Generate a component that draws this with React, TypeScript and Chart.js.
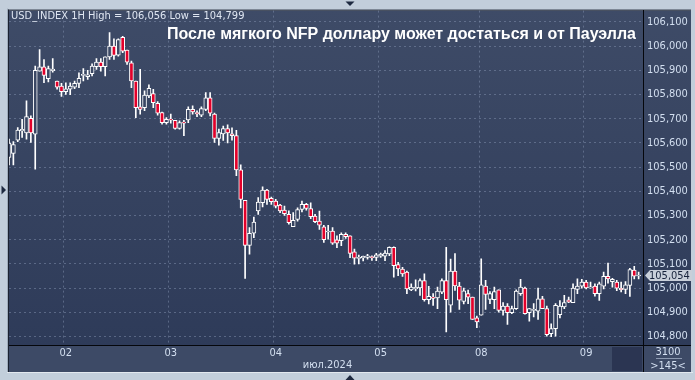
import { useEffect, useRef } from 'react';
import { Chart, registerables } from 'chart.js';

Chart.register(...registerables);

// ---- categories (1H bars) ----
const days = ['01', '02', '03', '04', '05', '08', '09'];
const firstHour = [11, 0, 0, 0, 0, 0, 0];
const barsPerDay = [13, 24, 24, 24, 23, 24, 13];
const categories: string[] = [];
days.forEach((d, i) => {
  for (let k = 0; k < barsPerDay[i]; k++) {
    const h = firstHour[i] + k;
    categories.push(`${d}.07 ${String(h).padStart(2, '0')}:00`);
  }
});
categories.push(''); // empty trailing slot

const yTicks = [104.8, 104.9, 105.0, 105.1, 105.2, 105.3, 105.4, 105.5, 105.6, 105.7, 105.8, 105.9, 106.0, 106.1];

const opens = [
  105.540, 105.557, 105.612, 105.650, 105.641, 105.702, 105.636, 105.897, 105.915, 105.866,
  105.899, 105.856, 105.835, 105.812, 105.822, 105.831, 105.846, 105.879, 105.874, 105.886,
  105.915, 105.934, 105.915, 105.956, 106.000, 105.963, 106.037, 105.984, 105.931, 105.856,
  105.749, 105.746, 105.794, 105.804, 105.764, 105.726, 105.684, 105.699, 105.694, 105.660,
  105.686, 105.695, 105.739, 105.726, 105.715, 105.739, 105.787, 105.719, 105.619, 105.637,
  105.659, 105.638, 105.630, 105.489, 105.363, 105.177, 105.227, 105.319, 105.353, 105.405,
  105.371, 105.360, 105.343, 105.323, 105.305, 105.254, 105.284, 105.325, 105.346, 105.329,
  105.298, 105.277, 105.253, 105.232, 105.236, 105.200, 105.196, 105.222, 105.216, 105.150,
  105.123, 105.125, 105.127, 105.130, 105.127, 105.132, 105.132, 105.141, 105.169, 105.097,
  105.079, 105.066, 104.993, 104.997, 105.001, 105.031, 104.952, 104.963, 104.960, 104.983,
  105.031, 104.930, 105.071, 105.008, 104.945, 104.977, 104.963, 104.877, 104.888, 105.008,
  104.953, 104.952, 104.993, 104.908, 104.926, 104.899, 104.915, 104.977, 105.000, 104.899,
  104.908, 104.905, 104.956, 104.915, 104.812, 104.833, 104.890, 104.922, 104.952, 104.940,
  104.995, 105.008, 105.025, 105.001, 105.008, 104.977, 105.008, 105.049, 105.027, 105.025,
  104.999, 104.995, 105.011, 105.075, 105.050,
];
const highs = [
  105.616, 105.606, 105.664, 105.698, 105.774, 105.712, 105.918, 105.986, 105.945, 105.918,
  105.949, 105.856, 105.846, 105.849, 105.849, 105.856, 105.890, 105.907, 105.900, 105.927,
  105.949, 105.949, 105.956, 106.056, 106.030, 106.030, 106.041, 105.984, 105.938, 105.856,
  105.904, 105.815, 105.840, 105.822, 105.771, 105.728, 105.705, 105.719, 105.694, 105.691,
  105.694, 105.749, 105.753, 105.733, 105.749, 105.808, 105.808, 105.723, 105.657, 105.670,
  105.675, 105.662, 105.652, 105.510, 105.363, 105.250, 105.294, 105.374, 105.419, 105.408,
  105.376, 105.367, 105.346, 105.339, 105.319, 105.312, 105.332, 105.360, 105.350, 105.353,
  105.305, 105.318, 105.260, 105.260, 105.250, 105.216, 105.229, 105.229, 105.216, 105.161,
  105.137, 105.133, 105.140, 105.134, 105.144, 105.145, 105.155, 105.171, 105.171, 105.107,
  105.086, 105.070, 105.018, 105.034, 105.038, 105.059, 105.007, 104.977, 105.004, 105.038,
  105.169, 105.120, 105.143, 105.024, 105.000, 104.992, 104.963, 104.885, 105.121, 105.032,
  104.986, 105.004, 104.993, 104.940, 104.936, 104.926, 104.993, 105.036, 105.004, 104.915,
  104.936, 105.000, 104.966, 104.926, 104.853, 104.936, 104.949, 104.970, 104.963, 105.018,
  105.038, 105.036, 105.032, 105.025, 105.018, 105.025, 105.066, 105.104, 105.041, 105.032,
  105.025, 105.027, 105.082, 105.090, 105.066,
];
const lows = [
  105.509, 105.509, 105.605, 105.623, 105.616, 105.602, 105.492, 105.897, 105.849, 105.852,
  105.893, 105.822, 105.792, 105.801, 105.800, 105.824, 105.829, 105.856, 105.863, 105.877,
  105.904, 105.897, 105.877, 105.945, 105.945, 105.959, 105.973, 105.925, 105.829, 105.705,
  105.719, 105.733, 105.787, 105.746, 105.715, 105.678, 105.678, 105.682, 105.657, 105.657,
  105.630, 105.684, 105.719, 105.709, 105.709, 105.733, 105.712, 105.602, 105.591, 105.610,
  105.600, 105.611, 105.465, 105.332, 105.040, 105.140, 105.209, 105.305, 105.336, 105.346,
  105.346, 105.332, 105.312, 105.301, 105.264, 105.254, 105.277, 105.315, 105.322, 105.287,
  105.271, 105.243, 105.189, 105.202, 105.181, 105.167, 105.175, 105.205, 105.126, 105.099,
  105.100, 105.113, 105.120, 105.115, 105.114, 105.127, 105.114, 105.134, 105.045, 105.052,
  105.048, 104.977, 104.990, 104.988, 104.970, 104.946, 104.935, 104.929, 104.915, 104.977,
  104.819, 104.901, 104.991, 104.912, 104.935, 104.936, 104.871, 104.837, 104.888, 104.912,
  104.936, 104.915, 104.901, 104.888, 104.850, 104.894, 104.912, 104.970, 104.892, 104.863,
  104.881, 104.871, 104.915, 104.802, 104.799, 104.802, 104.877, 104.915, 104.940, 104.940,
  104.977, 105.000, 104.997, 105.000, 104.967, 104.949, 104.997, 105.021, 105.004, 104.990,
  104.984, 104.977, 104.966, 105.038, 105.038,
];
const closes = [
  105.600, 105.593, 105.653, 105.656, 105.709, 105.641, 105.900, 105.915, 105.879, 105.907,
  105.905, 105.831, 105.812, 105.824, 105.835, 105.846, 105.867, 105.884, 105.882, 105.918,
  105.934, 105.915, 105.956, 106.000, 105.962, 106.027, 105.979, 105.934, 105.856, 105.746,
  105.739, 105.798, 105.826, 105.767, 105.723, 105.684, 105.698, 105.694, 105.660, 105.684,
  105.682, 105.739, 105.728, 105.720, 105.742, 105.787, 105.723, 105.619, 105.643, 105.659,
  105.641, 105.630, 105.489, 105.367, 105.177, 105.227, 105.273, 105.356, 105.405, 105.367,
  105.357, 105.339, 105.319, 105.308, 105.271, 105.280, 105.325, 105.346, 105.329, 105.295,
  105.275, 105.260, 105.200, 105.236, 105.186, 105.186, 105.222, 105.213, 105.143, 105.124,
  105.127, 105.131, 105.134, 105.126, 105.138, 105.141, 105.145, 105.169, 105.093, 105.079,
  105.059, 104.997, 105.004, 105.003, 105.031, 104.952, 104.966, 104.958, 104.988, 105.031,
  104.952, 105.071, 105.009, 104.950, 104.989, 104.963, 104.871, 104.860, 105.014, 104.974,
  104.977, 104.986, 104.908, 104.926, 104.899, 104.915, 104.988, 105.004, 104.894, 104.915,
  104.912, 104.956, 104.915, 104.808, 104.833, 104.929, 104.926, 104.940, 104.942, 105.000,
  105.008, 105.025, 105.001, 105.003, 104.977, 105.018, 105.049, 105.038, 105.036, 105.000,
  104.994, 105.014, 105.077, 105.049, 105.054,
];

const infoText = 'USD_INDEX 1H High = 106,056 Low = 104,799';
const titleText = 'После мягкого NFP доллару может достаться и от Пауэлла';
const monthLabel = 'июл.2024';
const cornerTop = '3100';
const cornerBottom = '>145<';

const FONT = "'Liberation Sans Narrow', 'Arial Narrow', 'DejaVu Sans Condensed', 'Liberation Sans', Arial, sans-serif";
const LABEL_COLOR = '#d3dff0';
const GRID_COLOR = 'rgba(125,140,170,0.55)';
const RED = '#e3002a';
const fmt = (v: number) => v.toFixed(3).replace('.', ',');
const isDayStart = (i: number) => !!categories[i] && categories[i].endsWith(' 00:00');

let gradCache: { key: string; g: CanvasGradient } | null = null;
function plotGradient(chart: any) {
  const a = chart.chartArea;
  if (!a) return '#36425f';
  const key = `${a.top}-${a.bottom}`;
  if (gradCache && gradCache.key === key) return gradCache.g;
  const g = chart.ctx.createLinearGradient(0, a.top, 0, a.bottom);
  g.addColorStop(0, '#3e4b67');
  g.addColorStop(1, '#2e3b59');
  gradCache = { key, g };
  return g;
}

const framePlugin = {
  id: 'frame',
  beforeDraw(chart: any) {
    const { ctx, chartArea: a, width, height } = chart;
    const yS = chart.scales.y;
    const xS = chart.scales.x;
    const right = yS.right;
    const bottom = xS.bottom;
    ctx.save();
    ctx.fillStyle = '#c2cedb';
    ctx.fillRect(0, 0, width, height);
    // outer frame edge
    ctx.fillStyle = '#e2e8ef';
    ctx.fillRect(a.left - 2, bottom, right - a.left + 4, 1);
    ctx.fillStyle = '#9eabbb';
    ctx.fillRect(a.left - 2, a.top - 2, 1, bottom - a.top + 2);
    // plot + right axis background
    ctx.fillStyle = plotGradient(chart);
    ctx.fillRect(a.left, a.top, right - a.left, a.bottom - a.top);
    // bottom axis bar
    ctx.fillStyle = '#3d4a66';
    ctx.fillRect(a.left, a.bottom, right - a.left, bottom - a.bottom);
    // dark box bottom right of plot
    ctx.fillStyle = '#2b3552';
    ctx.fillRect(612, a.bottom + 2, a.right - 613, bottom - a.bottom - 3);
    // left / top dark edges
    ctx.fillStyle = '#1b2231';
    ctx.fillRect(a.left - 1, a.top - 1, 1, bottom - a.top + 1);
    ctx.fillRect(a.left - 1, a.top - 1, right - a.left + 1, 1);
    // triangles
    ctx.fillStyle = '#1d2940';
    const cx = 350;
    ctx.beginPath();
    ctx.moveTo(cx - 4.5, 1.5); ctx.lineTo(cx + 4.5, 1.5); ctx.lineTo(cx, 6);
    ctx.closePath(); ctx.fill();
    ctx.beginPath();
    ctx.moveTo(cx - 4.5, 380); ctx.lineTo(cx + 4.5, 380); ctx.lineTo(cx, 375);
    ctx.closePath(); ctx.fill();
    ctx.beginPath();
    ctx.moveTo(1.5, 185.5); ctx.lineTo(6, 190); ctx.lineTo(1.5, 194.5);
    ctx.closePath(); ctx.fill();
    ctx.restore();
  },
  afterDraw(chart: any) {
    const { ctx, chartArea: a } = chart;
    const yS = chart.scales.y;
    const xS = chart.scales.x;
    const right = yS.right;
    const bottom = xS.bottom;
    ctx.save();
    // axis separator lines
    ctx.strokeStyle = '#05070c';
    ctx.lineWidth = 1;
    ctx.beginPath();
    ctx.moveTo(a.right + 0.5, a.top);
    ctx.lineTo(a.right + 0.5, bottom);
    ctx.moveTo(a.left, a.bottom + 0.5);
    ctx.lineTo(right, a.bottom + 0.5);
    ctx.stroke();

    // info text
    ctx.fillStyle = '#dfe6f1';
    ctx.font = `11px ${FONT}`;
    ctx.textAlign = 'left';
    ctx.textBaseline = 'alphabetic';
    ctx.fillText(infoText, 11, 18.5);

    // title
    ctx.fillStyle = '#ffffff';
    ctx.font = `bold 16px 'Liberation Sans', Arial, sans-serif`;
    ctx.textAlign = 'right';
    ctx.fillText(titleText, 636, 39);

    // month label
    ctx.fillStyle = LABEL_COLOR;
    ctx.font = `11px ${FONT}`;
    ctx.textAlign = 'center';
    ctx.textBaseline = 'middle';
    ctx.fillText(monthLabel, (a.left + a.right) / 2 + 1.5, 365);

    // corner
    ctx.fillText(cornerTop, 668, 352.5);
    ctx.fillText(cornerBottom, 668, 366);
    ctx.fillStyle = '#8c99b0';
    ctx.fillRect(656, 358, 26, 1);

    // last price marker
    const last = closes[closes.length - 1];
    const py = Math.round(yS.getPixelForValue(last)) + 0.5;
    ctx.fillStyle = '#c8cfd9';
    ctx.beginPath();
    ctx.moveTo(645, py);
    ctx.lineTo(650, py - 5.5);
    ctx.lineTo(692, py - 5.5);
    ctx.lineTo(692, py + 5.5);
    ctx.lineTo(650, py + 5.5);
    ctx.closePath();
    ctx.fill();
    ctx.fillStyle = '#17233b';
    ctx.textAlign = 'left';
    ctx.fillText(fmt(last), 649, py + 0.5);
    ctx.restore();
  },
};

export default function App() {
  const ref = useRef<HTMLCanvasElement | null>(null);
  useEffect(() => {
    if (!ref.current) return;
    const chart = new Chart(ref.current, {
      type: 'bar',
      data: {
        labels: categories,
        datasets: [
          {
            label: 'body',
            data: opens.map((o, i) => [o, closes[i]]) as any,
            order: 0,
            grouped: false,
            barThickness: 4,
            borderWidth: 1,
            borderColor: '#ffffff',
            borderSkipped: false,
            minBarLength: 1,
            clip: 0 as any,
            backgroundColor: (c: any) =>
              closes[c.dataIndex] >= opens[c.dataIndex] ? plotGradient(c.chart) : RED,
          } as any,
          {
            label: 'wick',
            data: lows.map((l, i) => [l, highs[i]]) as any,
            order: 1,
            grouped: false,
            barThickness: 1,
            borderWidth: 0,
            backgroundColor: '#ffffff',
            clip: 0 as any,
          } as any,
        ],
      },
      options: {
        animation: false,
        responsive: false,
        maintainAspectRatio: false,
        events: [],
        layout: { padding: { left: 9, top: 9, right: 4, bottom: 8 } },
        plugins: { legend: { display: false }, tooltip: { enabled: false } },
        scales: {
          x: {
            type: 'category',
            offset: false,
            grid: {
              color: (c: any) => (isDayStart(c.index) ? GRID_COLOR : 'rgba(0,0,0,0)'),
              drawTicks: false,
            },
            border: { color: '#05070c', dash: [2, 3] },
            ticks: {
              autoSkip: false,
              maxRotation: 0,
              minRotation: 0,
              padding: 2,
              color: LABEL_COLOR,
              font: { family: FONT, size: 11 },
              callback: (_v: any, i: number) => (isDayStart(i) ? categories[i].slice(0, 2) : ''),
            },
            afterFit: (s: any) => {
              s.height = 27;
            },
          },
          y: {
            position: 'right',
            min: 104.765,
            max: 106.147,
            afterBuildTicks: (s: any) => {
              s.ticks = yTicks.map((v) => ({ value: v }));
            },
            grid: { color: GRID_COLOR, drawTicks: false },
            border: { color: '#05070c', dash: [2, 3] },
            ticks: {
              padding: 4,
              color: LABEL_COLOR,
              font: { family: FONT, size: 11 },
              callback: (v: any) => fmt(Number(v)),
            },
            afterFit: (s: any) => {
              s.width = 48;
            },
          },
        },
      },
      plugins: [framePlugin],
    });
    return () => chart.destroy();
  }, []);
  return (
    <div style={{ position: 'fixed', left: 0, top: 0, width: 695, height: 380 }}>
      <canvas ref={ref} width={695} height={380} style={{ width: 695, height: 380, display: 'block' }} />
    </div>
  );
}
